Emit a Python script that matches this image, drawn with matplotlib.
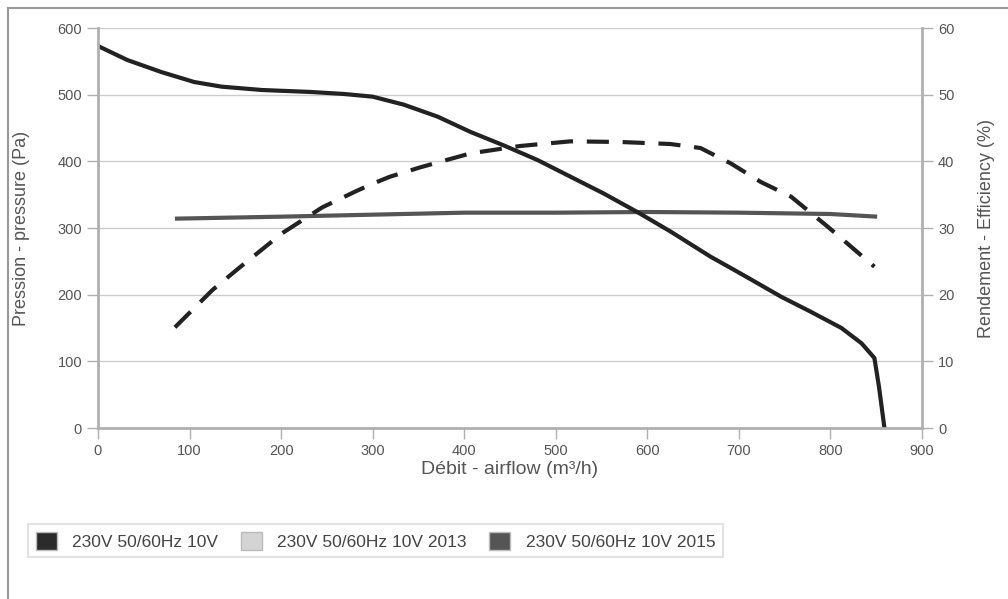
import matplotlib.pyplot as plt
from matplotlib.patches import Patch
from matplotlib.lines import Line2D

plt.rcParams['font.family'] = ['Liberation Sans', 'DejaVu Sans']

# pressure curve (Pa)
p_x = [0, 32, 69, 105, 135, 179, 233, 269, 300, 334, 371, 407, 443, 480, 516, 552, 589, 625, 647, 669,
       695, 713, 746, 779, 812, 834, 848, 853, 859]
p_y = [573, 552, 534, 519, 512, 507, 504, 501, 497, 485, 467, 444, 424, 402, 377, 352, 324, 295, 276, 257,
       237, 223, 197, 174, 150, 127, 105, 62, 0]

# efficiency curve (%)
e_x = [84, 125, 154, 201, 245, 283, 301, 319, 352, 407, 461, 516, 571, 625, 658, 691, 724, 757, 797, 848]
e_y = [15.1, 20.7, 24.0, 29.2, 33.1, 35.6, 36.7, 37.7, 39.1, 41.2, 42.3, 43.0, 42.9, 42.6, 42.0, 39.7,
       36.9, 34.7, 30.2, 24.2]

# flat curve (Pa scale)
f_x = [84, 200, 300, 400, 500, 600, 700, 800, 851]
f_y = [314, 317, 320, 323, 323, 324, 323, 321, 317]

legend_labels = ['230V 50/60Hz 10V', '230V 50/60Hz 10V 2013', '230V 50/60Hz 10V 2015']
legend_colors = ['#2b2b2b', '#d4d4d4', '#555555']

txt = '#555555'
grid = '#cccccc'
axc = '#b0b0b0'

fig = plt.figure(figsize=(10.08, 5.99), dpi=100)
ax = fig.add_axes([98/1008, 1 - 428/599, 824/1008, 400/599])
ax2 = ax.twinx()

ax.set_xlim(0, 900)
ax.set_ylim(0, 600)
ax2.set_ylim(0, 60)
ax.set_xticks(range(0, 901, 100))
ax.set_yticks(range(0, 601, 100))
ax2.set_yticks(range(0, 61, 10))
ax.grid(axis='y', color=grid, lw=1)
ax.set_axisbelow(True)

for a in (ax, ax2):
    for s in a.spines.values():
        s.set_visible(False)
    a.tick_params(colors=axc, labelcolor=txt, labelsize=10.5, length=8, width=1)
for a, side in ((ax, 'left'), (ax, 'bottom'), (ax2, 'right')):
    a.spines[side].set_visible(True)
    a.spines[side].set_color(axc)
    a.spines[side].set_linewidth(2)

ax.plot(f_x, f_y, color='#555555', lw=3, solid_capstyle='butt')
ax.plot(p_x, p_y, color='#222222', lw=3)
ax2.plot(e_x, e_y, color='#222222', lw=3, dashes=(5.3, 3.3))

ax.set_xlabel('Débit - airflow (m³/h)', color=txt, fontsize=14, labelpad=2)
ax.set_ylabel('Pression - pressure (Pa)', color=txt, fontsize=13, labelpad=20)
ax2.set_ylabel('Rendement - Efficiency (%)', color=txt, fontsize=13, labelpad=17)

handles = [Patch(facecolor=c, edgecolor='#bbbbbb') for c in legend_colors]
leg = fig.legend(handles, legend_labels, loc='upper left', bbox_to_anchor=(28/1008, 1 - 524/599),
                 ncol=3, frameon=True, fancybox=False, fontsize=12.5, labelcolor='#444444',
                 handlelength=1.2, handleheight=1.2, handletextpad=0.9, columnspacing=1.3,
                 borderpad=0.45, borderaxespad=0)
leg.get_frame().set_edgecolor('#dddddd')
leg.get_frame().set_linewidth(1.5)

# outer frame
fig.add_artist(Line2D([8/1008, 8/1008], [0, 1 - 8/599], color='#999999', lw=1.5))
fig.add_artist(Line2D([8/1008, 1], [1 - 8/599, 1 - 8/599], color='#999999', lw=1.5))

fig.savefig('out.png', dpi=100)
